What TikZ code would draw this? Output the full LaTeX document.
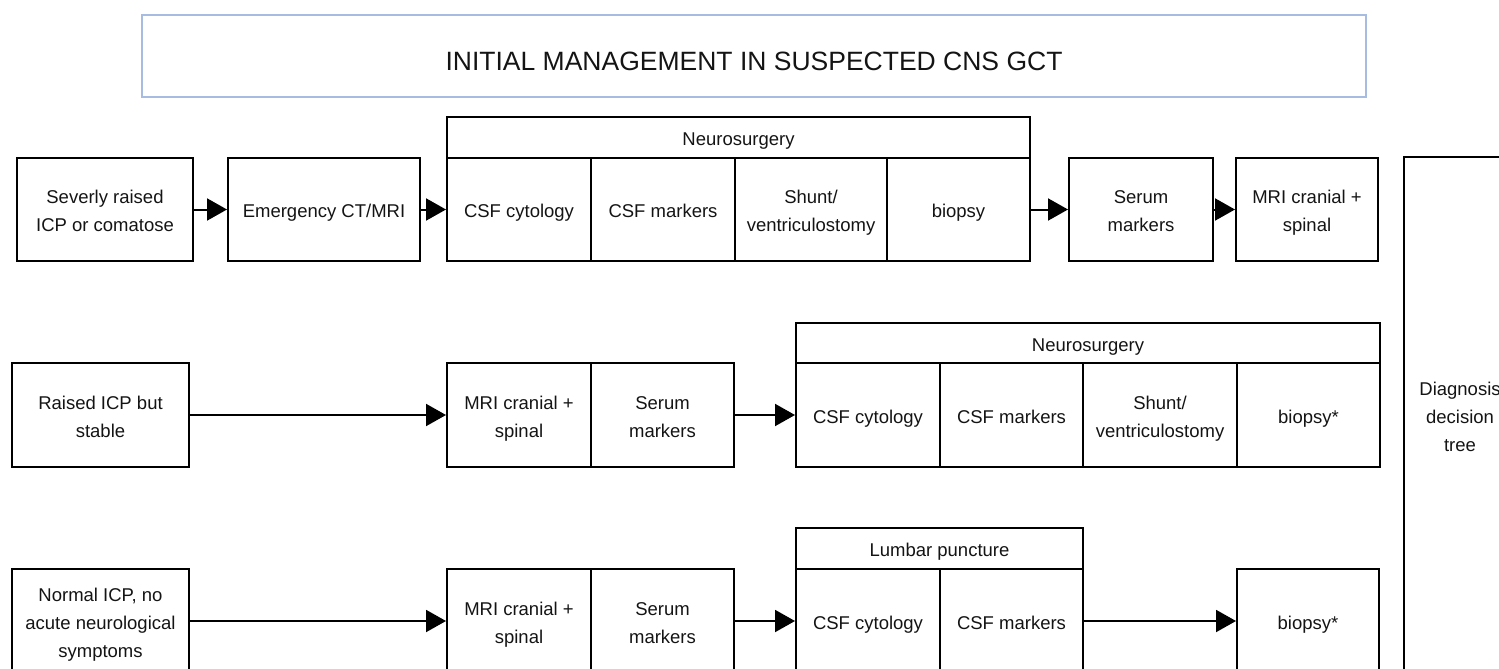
\documentclass[tikz,border=0pt]{standalone}
\usepackage{fontspec}
\setmainfont{Liberation Sans}
\usetikzlibrary{arrows.meta}
\definecolor{titleblue}{RGB}{166,188,224}
\definecolor{ink}{RGB}{20,20,20}
\newcommand\lnstrut{\rule[-5.9pt]{0pt}{28pt}}
\begin{document}
\begin{tikzpicture}[x=1pt,y=-1pt,
  box/.style={draw=black, line width=2pt, inner sep=0pt, align=center,
    font=\fontsize{18.5}{28}\selectfont, text=ink},
  arr/.style={line width=2pt, draw=black, -{Triangle[length=20pt,width=22pt]}},
]
\useasboundingbox (0,0) rectangle (1499,669);
\clip (0,0) rectangle (1499,669);

% title
\node[draw=titleblue, line width=2.5pt, minimum width=1224pt, minimum height=82pt, inner sep=0pt] (title) at (754,56) {};
\node[font=\fontsize{26.5}{30}\selectfont, text=ink, inner sep=0pt] (titletext) at (754,61) {INITIAL MANAGEMENT IN SUSPECTED CNS GCT};

% row 1
\node[box, minimum width=176pt, minimum height=103pt] (a1) at (105,209.5) {\lnstrut Severly raised\\\lnstrut ICP or comatose};
\node[box, minimum width=192pt, minimum height=103pt] (a2) at (324,209.5) {\lnstrut Emergency CT/MRI};
\node[box, minimum width=583pt, minimum height=41pt] (ah) at (738.5,137.5) {\lnstrut Neurosurgery};
\node[box, minimum width=144pt, minimum height=103pt] (a3) at (519,209.5) {\lnstrut CSF cytology};
\node[box, minimum width=144pt, minimum height=103pt] (a4) at (663,209.5) {\lnstrut CSF markers};
\node[box, minimum width=152pt, minimum height=103pt] (a5) at (811,209.5) {\lnstrut Shunt/\\\lnstrut ventriculostomy};
\node[box, minimum width=143pt, minimum height=103pt] (a6) at (958.5,209.5) {\lnstrut biopsy};
\node[box, minimum width=144pt, minimum height=103pt] (a7) at (1141,209.5) {\lnstrut Serum\\\lnstrut markers};
\node[box, minimum width=142pt, minimum height=103pt] (a8) at (1307,209.5) {\lnstrut MRI cranial +\\\lnstrut spinal};

% diagnosis
\node[box, minimum width=112pt, minimum height=518pt] (dx) at (1460,415.5) {\lnstrut Diagnosis\\\lnstrut decision\\\lnstrut tree};

% row 2
\node[box, minimum width=177pt, minimum height=104pt] (b1) at (100.5,415) {\lnstrut Raised ICP but\\\lnstrut stable};
\node[box, minimum width=144pt, minimum height=104pt] (b2) at (519,415) {\lnstrut MRI cranial +\\\lnstrut spinal};
\node[box, minimum width=143pt, minimum height=104pt] (b3) at (662.5,415) {\lnstrut Serum\\\lnstrut markers};
\node[box, minimum width=584pt, minimum height=40pt] (bh) at (1088,343) {\lnstrut Neurosurgery};
\node[box, minimum width=144pt, minimum height=104pt] (b4) at (868,415) {\lnstrut CSF cytology};
\node[box, minimum width=143pt, minimum height=104pt] (b5) at (1011.5,415) {\lnstrut CSF markers};
\node[box, minimum width=154pt, minimum height=104pt] (b6) at (1160,415) {\lnstrut Shunt/\\\lnstrut ventriculostomy};
\node[box, minimum width=143pt, minimum height=104pt] (b7) at (1308.5,415) {\lnstrut biopsy*};

% row 3
\node[box, minimum width=177pt, minimum height=104pt] (c1) at (100.5,621) {\lnstrut Normal ICP, no\\\lnstrut acute neurological\\\lnstrut symptoms};
\node[box, minimum width=144pt, minimum height=104pt] (c2) at (519,621) {\lnstrut MRI cranial +\\\lnstrut spinal};
\node[box, minimum width=143pt, minimum height=104pt] (c3) at (662.5,621) {\lnstrut Serum\\\lnstrut markers};
\node[box, minimum width=287pt, minimum height=41pt] (ch) at (939.5,548.5) {\lnstrut Lumbar puncture};
\node[box, minimum width=144pt, minimum height=104pt] (c4) at (868,621) {\lnstrut CSF cytology};
\node[box, minimum width=143pt, minimum height=104pt] (c5) at (1011.5,621) {\lnstrut CSF markers};
\node[box, minimum width=142pt, minimum height=104pt] (c6) at (1308,621) {\lnstrut biopsy*};

% arrows
\draw[arr] (a1) -- (a2);
\draw[arr] (a2) -- (a3);
\draw[arr] (a6) -- (a7);
\draw[arr] (a7) -- (a8);
\draw[arr] (b1) -- (b2);
\draw[arr] (b3) -- (b4);
\draw[arr] (c1) -- (c2);
\draw[arr] (c3) -- (c4);
\draw[arr] (c5) -- (c6);
\end{tikzpicture}
\end{document}
